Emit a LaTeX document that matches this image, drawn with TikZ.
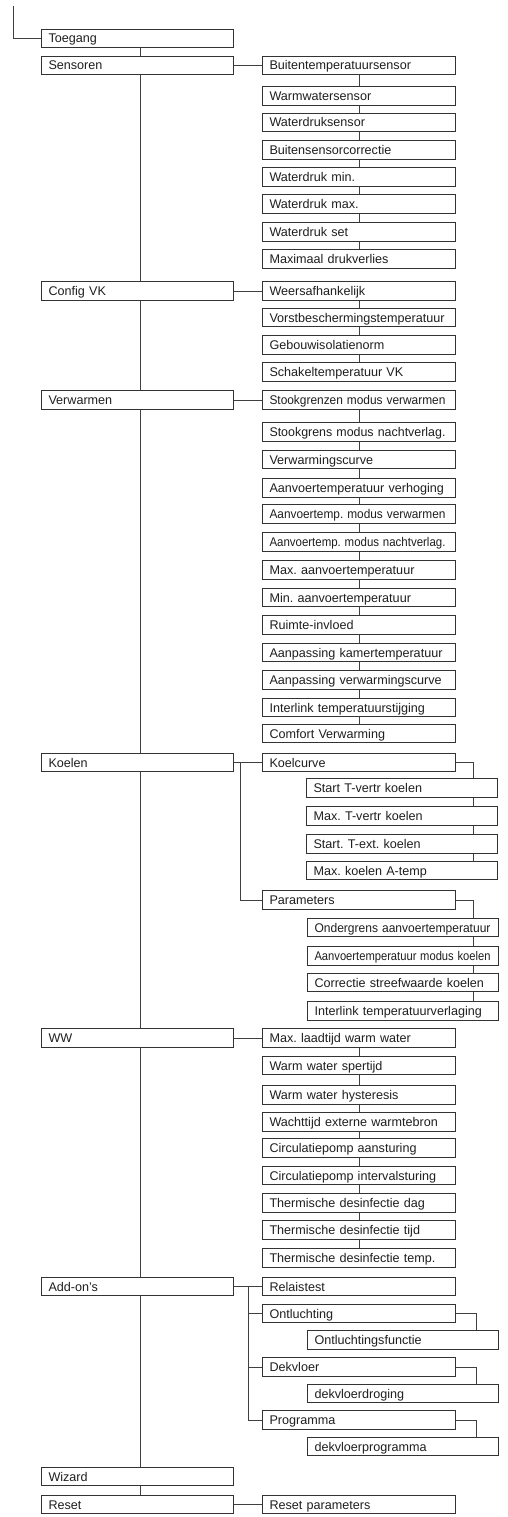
\documentclass[tikz,border=0pt]{standalone}
\usepackage{fontspec}
\usepackage{graphicx}
\setmainfont{Liberation Sans}
\frenchspacing
\usetikzlibrary{backgrounds}
\newcommand{\ft}[1]{\sbox0{#1}\ifdim\wd0>176pt\relax\resizebox{176pt}{\height}{#1}\else\usebox0\fi}
\tikzset{
  bx/.style={draw=black!80, fill=white, line width=1pt, inner xsep=7pt, inner ysep=0pt,
    minimum height=18.5pt, anchor=west, text height=9pt, text depth=0pt, align=left,
    text=black!88, font=\fontsize{12.6pt}{14pt}\selectfont},
  lbox/.style={bx, text width=178pt},
  rbox/.style={bx, text width=179pt},
  sbox/.style={bx, text width=177pt},
  ln/.style={draw=black!75, line width=0.9pt},
}
\begin{document}
\begin{tikzpicture}[x=1pt,y=-1pt]
\useasboundingbox (0,0) rectangle (507,1517);
% left column
\node[lbox] (toegang) at (41,38.5) {\ft{Toegang}};
\node[lbox] (sensoren) at (41,65.5) {\ft{Sensoren}};
\node[lbox] (config) at (41,291) {\ft{Config VK}};
\node[lbox] (verwarmen) at (41,400) {\ft{Verwarmen}};
\node[lbox] (koelen) at (41,762.5) {\ft{Koelen}};
\node[lbox] (ww) at (41,1038) {\ft{WW}};
\node[lbox] (addons) at (41,1286.5) {\ft{Add-on's}};
\node[lbox] (wizard) at (41,1476.5) {\ft{Wizard}};
\node[lbox] (reset) at (41,1504.5) {\ft{Reset}};
% Sensoren
\node[rbox] (s1) at (262,65.5) {\ft{Buitentemperatuursensor}};
\node[rbox] (s2) at (262,96) {\ft{Warmwatersensor}};
\node[rbox] (s3) at (262,122.5) {\ft{Waterdruksensor}};
\node[rbox] (s4) at (262,150) {\ft{Buitensensorcorrectie}};
\node[rbox] (s5) at (262,177) {\ft{Waterdruk min.}};
\node[rbox] (s6) at (262,204) {\ft{Waterdruk max.}};
\node[rbox] (s7) at (262,232) {\ft{Waterdruk set}};
\node[rbox] (s8) at (262,259) {\ft{Maximaal drukverlies}};
% Config VK
\node[rbox] (c1) at (262,291) {\ft{Weersafhankelijk}};
\node[rbox] (c2) at (262,317.5) {\ft{Vorstbeschermingstemperatuur}};
\node[rbox] (c3) at (262,345) {\ft{Gebouwisolatienorm}};
\node[rbox] (c4) at (262,372) {\ft{Schakeltemperatuur VK}};
% Verwarmen
\node[rbox] (v1) at (262,400) {\ft{Stookgrenzen modus verwarmen}};
\node[rbox] (v2) at (262,432) {\ft{Stookgrens modus nachtverlag.}};
\node[rbox] (v3) at (262,459.5) {\ft{Verwarmingscurve}};
\node[rbox] (v4) at (262,488) {\ft{Aanvoertemperatuur verhoging}};
\node[rbox] (v5) at (262,514) {\ft{Aanvoertemp. modus verwarmen}};
\node[rbox] (v6) at (262,542) {\ft{Aanvoertemp. modus nachtverlag.}};
\node[rbox] (v7) at (262,570) {\ft{Max. aanvoertemperatuur}};
\node[rbox] (v8) at (262,597.5) {\ft{Min. aanvoertemperatuur}};
\node[rbox] (v9) at (262,625) {\ft{Ruimte-invloed}};
\node[rbox] (v10) at (262,652.5) {\ft{Aanpassing kamertemperatuur}};
\node[rbox] (v11) at (262,680) {\ft{Aanpassing verwarmingscurve}};
\node[rbox] (v12) at (262,707.5) {\ft{Interlink temperatuurstijging}};
\node[rbox] (v13) at (262,733.5) {\ft{Comfort Verwarming}};
% Koelen
\node[rbox] (koelcurve) at (262,762.5) {\ft{Koelcurve}};
\node[sbox] (k1) at (306,788) {\ft{Start T-vertr koelen}};
\node[sbox] (k2) at (306,816) {\ft{Max. T-vertr koelen}};
\node[sbox] (k3) at (306,844) {\ft{Start. T-ext. koelen}};
\node[sbox] (k4) at (306,870.5) {\ft{Max. koelen A-temp}};
\node[rbox] (parameters) at (262,900) {\ft{Parameters}};
\node[sbox] (p1) at (307,927.5) {\ft{Ondergrens aanvoertemperatuur}};
\node[sbox] (p2) at (307,956) {\ft{Aanvoertemperatuur modus koelen}};
\node[sbox] (p3) at (307,982.5) {\ft{Correctie streefwaarde koelen}};
\node[sbox] (p4) at (307,1011) {\ft{Interlink temperatuurverlaging}};
% WW
\node[rbox] (w1) at (262,1038) {\ft{Max. laadtijd warm water}};
\node[rbox] (w2) at (262,1065.5) {\ft{Warm water spertijd}};
\node[rbox] (w3) at (262,1095) {\ft{Warm water hysteresis}};
\node[rbox] (w4) at (262,1122) {\ft{Wachttijd externe warmtebron}};
\node[rbox] (w5) at (262,1148) {\ft{Circulatiepomp aansturing}};
\node[rbox] (w6) at (262,1175.5) {\ft{Circulatiepomp intervalsturing}};
\node[rbox] (w7) at (262,1203) {\ft{Thermische desinfectie dag}};
\node[rbox] (w8) at (262,1230) {\ft{Thermische desinfectie tijd}};
\node[rbox] (w9) at (262,1258) {\ft{Thermische desinfectie temp.}};
% Add-on's
\node[rbox] (relais) at (262,1286.5) {\ft{Relaistest}};
\node[rbox] (ontl) at (262,1313.5) {\ft{Ontluchting}};
\node[sbox] (ontlf) at (307,1340) {\ft{Ontluchtingsfunctie}};
\node[rbox] (dek) at (262,1367) {\ft{Dekvloer}};
\node[sbox] (dekd) at (307,1393.5) {\ft{dekvloerdroging}};
\node[rbox] (prog) at (262,1420) {\ft{Programma}};
\node[sbox] (dekp) at (307,1446.5) {\ft{dekvloerprogramma}};
% Reset
\node[rbox] (resetp) at (262,1504.5) {\ft{Reset parameters}};

\begin{pgfonlayer}{background}
\coordinate (top) at (13,6);
\draw[ln] (top) |- (toegang.west);
\foreach \a/\b in {toegang/sensoren,sensoren/config,config/verwarmen,verwarmen/koelen,koelen/ww,ww/addons,addons/wizard,wizard/reset}
  \draw[ln] ([xshift=3pt]\a.south) -- ([xshift=3pt]\b.north);
\foreach \a/\b in {s1/s2,s2/s3,s3/s4,s4/s5,s5/s6,s6/s7,s7/s8,
  c1/c2,c2/c3,c3/c4,
  v1/v2,v2/v3,v3/v4,v4/v5,v5/v6,v6/v7,v7/v8,v8/v9,v9/v10,v10/v11,v11/v12,v12/v13,
  w1/w2,w2/w3,w3/w4,w4/w5,w5/w6,w6/w7,w7/w8,w8/w9}
  \draw[ln] (\a.south) -- (\b.north);
\foreach \a/\b in {sensoren/s1,config/c1,verwarmen/v1,koelen/koelcurve,ww/w1,addons/relais,reset/resetp}
  \draw[ln] (\a.east) -- (\b.west);
% Koelen branches
\draw[ln] (koelcurve.west) -- ++(-22,0) |- (parameters.west);
\draw[ln] (koelcurve.east) -| ([xshift=71.5pt]k4.north);
\draw[ln] (parameters.east) -| ([xshift=70.5pt]p4.north);
% Add-on's branches
\coordinate (ab) at (248,1286.5);
\draw[ln] (ab) |- (prog.west);
\draw[ln] (ab |- ontl.west) -- (ontl.west);
\draw[ln] (ab |- dek.west) -- (dek.west);
\draw[ln] (ontl.east) -| ([xshift=73pt]ontlf.north);
\draw[ln] (dek.east) -| ([xshift=73pt]dekd.north);
\draw[ln] (prog.east) -| ([xshift=73pt]dekp.north);
\end{pgfonlayer}
\end{tikzpicture}
\end{document}
